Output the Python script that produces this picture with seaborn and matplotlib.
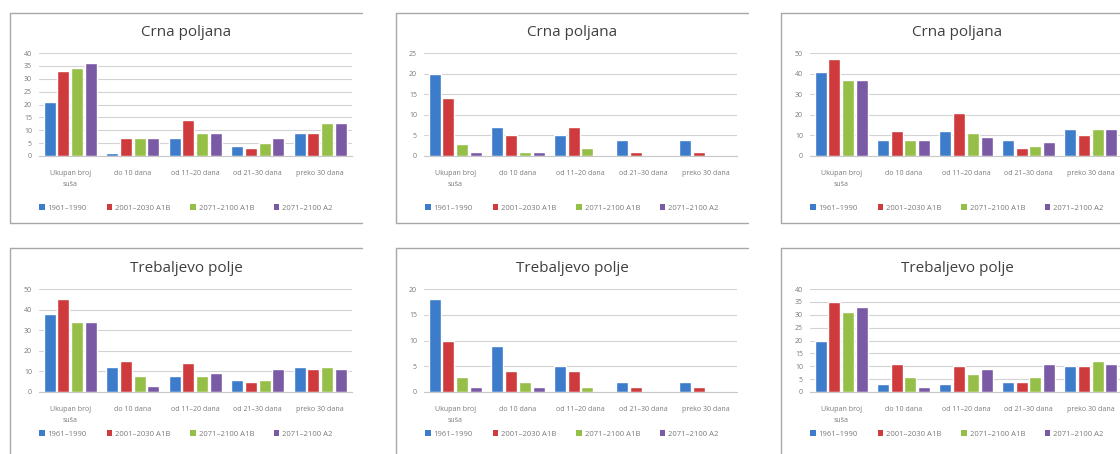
import numpy as np
import pandas as pd
import seaborn as sns
import matplotlib.pyplot as plt
from matplotlib.lines import Line2D
from matplotlib.patches import Patch

# categories and series
categories = ["Ukupan broj\nsuša", "do 10 dana", "od 11–20 dana", "od 21–30 dana", "preko 30 dana"]
series = ["1961–1990", "2001–2030 A1B", "2071–2100 A1B", "2071–2100 A2"]
colors = ["#3D7CCB", "#CF3A3D", "#96BF47", "#7A59A5"]

# top row - Crna poljana
p1_1961 = [21, 1, 7, 4, 9]
p1_2030 = [33, 7, 14, 3, 9]
p1_2100a1b = [34, 7, 9, 5, 13]
p1_2100a2 = [36, 7, 9, 7, 13]

p2_1961 = [20, 7, 5, 4, 4]
p2_2030 = [14, 5, 7, 1, 1]
p2_2100a1b = [3, 1, 2, 0, 0]
p2_2100a2 = [1, 1, 0, 0, 0]

p3_1961 = [41, 8, 12, 8, 13]
p3_2030 = [47, 12, 21, 4, 10]
p3_2100a1b = [37, 8, 11, 5, 13]
p3_2100a2 = [37, 8, 9, 7, 13]

# bottom row - Trebaljevo polje
p4_1961 = [38, 12, 8, 6, 12]
p4_2030 = [45, 15, 14, 5, 11]
p4_2100a1b = [34, 8, 8, 6, 12]
p4_2100a2 = [34, 3, 9, 11, 11]

p5_1961 = [18, 9, 5, 2, 2]
p5_2030 = [10, 4, 4, 1, 1]
p5_2100a1b = [3, 2, 1, 0, 0]
p5_2100a2 = [1, 1, 0, 0, 0]

p6_1961 = [20, 3, 3, 4, 10]
p6_2030 = [35, 11, 10, 4, 10]
p6_2100a1b = [31, 6, 7, 6, 12]
p6_2100a2 = [33, 2, 9, 11, 11]

titles = ["Crna poljana"] * 3 + ["Trebaljevo polje"] * 3
y_max = [40, 25, 50, 50, 20, 40]
y_step = [5, 5, 10, 10, 5, 5]
panels = [
    [p1_1961, p1_2030, p1_2100a1b, p1_2100a2],
    [p2_1961, p2_2030, p2_2100a1b, p2_2100a2],
    [p3_1961, p3_2030, p3_2100a1b, p3_2100a2],
    [p4_1961, p4_2030, p4_2100a1b, p4_2100a2],
    [p5_1961, p5_2030, p5_2100a1b, p5_2100a2],
    [p6_1961, p6_2030, p6_2100a1b, p6_2100a2],
]

sns.set_style("white")
plt.rcParams["font.family"] = ["Open Sans", "DejaVu Sans"]

W, H = 1120, 454
fig = plt.figure(figsize=(W / 100, H / 100), dpi=100)
fig.patch.set_facecolor("white")

# layout in pixels
box_left = [10, 396, 781]
box_w = 352
box_top = [13, 248]
box_bottom = [223, 470]
ax_x = [(39, 351.5), (424, 737), (810, 1122)]
ax_top = [53, 289]
ax_zero = [156, 392]
legend_y = [208, 434]

grid_col = "#d3d3d3"
text_col = "#7a7a7a"

for i, vals in enumerate(panels):
    row, col = divmod(i, 3)
    rows = []
    for s, v in zip(series, vals):
        for c, n in zip(categories, v):
            rows.append({"kategorija": c, "period": s, "broj": n})
    df = pd.DataFrame(rows)

    x0, x1 = ax_x[col]
    ax = fig.add_axes([x0 / W, 1 - ax_zero[row] / H, (x1 - x0) / W,
                       (ax_zero[row] - ax_top[row]) / H])
    sns.barplot(data=df, x="kategorija", y="broj", hue="period", order=categories,
                hue_order=series, palette=colors, saturation=1, width=0.88, gap=0.13,
                legend=False, ax=ax)
    ax.set_xlim(-0.5, 4.5)
    ax.set_ylim(0, y_max[i])
    ax.set_yticks(np.arange(0, y_max[i] + 1, y_step[i]))
    ax.set_xlabel("")
    ax.set_ylabel("")
    ax.yaxis.grid(True, color=grid_col, linewidth=0.8)
    ax.set_axisbelow(True)
    for sp in ["top", "right", "left"]:
        ax.spines[sp].set_visible(False)
    ax.spines["bottom"].set_color("#c8c8c8")
    ax.spines["bottom"].set_linewidth(0.8)
    ax.tick_params(axis="y", length=0, labelsize=5, labelcolor=text_col, pad=5)
    ax.tick_params(axis="x", length=0, labelsize=5, labelcolor=text_col, pad=10)
    for lab in ax.get_xticklabels():
        lab.set_linespacing(1.9)
        lab.set_verticalalignment("top")

    # panel frame (left, top, bottom edges)
    bl = box_left[col]
    br = bl + box_w
    bt = 1 - box_top[row] / H
    bb = 1 - box_bottom[row] / H
    for xs, ys in [([bl / W, br / W], [bt, bt]), ([bl / W, br / W], [bb, bb]),
                   ([bl / W, bl / W], [bb, bt])]:
        fig.add_artist(Line2D(xs, ys, transform=fig.transFigure, color="#a8a8a8", lw=1))

    cx = (bl + box_w / 2) / W
    fig.text(cx, 1 - (box_top[row] + 20) / H, titles[i], ha="center", va="center",
             fontsize=11, color="#404040")

    handles = [Patch(facecolor=c, edgecolor="none") for c in colors]
    ax.legend(handles, series, loc="center", bbox_to_anchor=(cx, 1 - legend_y[row] / H),
              bbox_transform=fig.transFigure, ncol=4, frameon=False, fontsize=5.5,
              labelcolor=text_col, handlelength=0.7, handleheight=0.7,
              handletextpad=0.4, columnspacing=2.6)

fig.savefig("out.png", dpi=100)
